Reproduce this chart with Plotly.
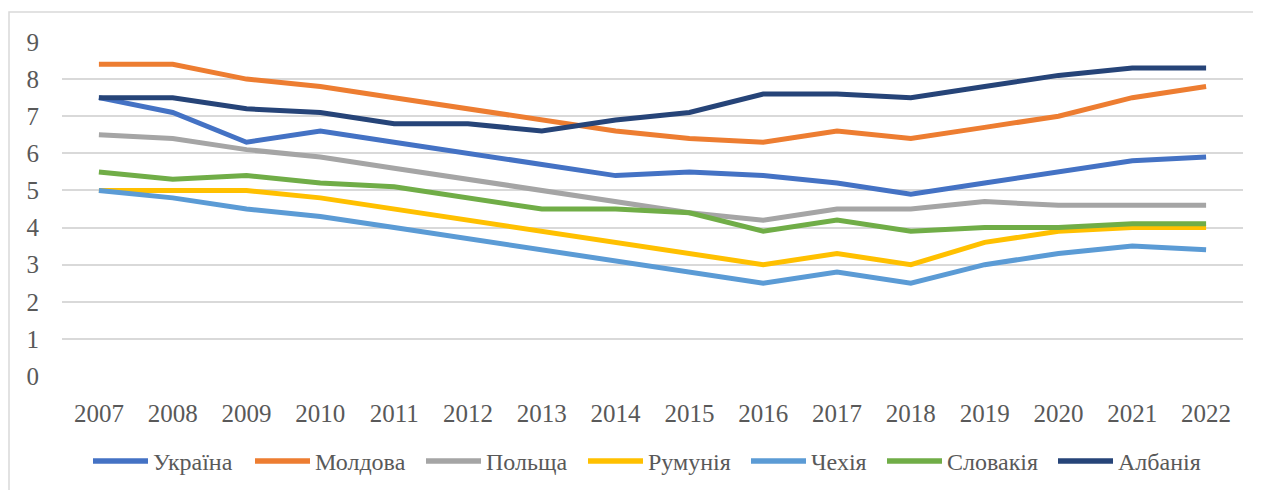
import plotly.graph_objects as go

years = [str(y) for y in range(2007, 2023)]
y_ticks = [0, 1, 2, 3, 4, 5, 6, 7, 8, 9]

ukraine  = [7.5, 7.1, 6.3, 6.6, 6.3, 6.0, 5.7, 5.4, 5.5, 5.4, 5.2, 4.9, 5.2, 5.5, 5.8, 5.9]
moldova  = [8.4, 8.4, 8.0, 7.8, 7.5, 7.2, 6.9, 6.6, 6.4, 6.3, 6.6, 6.4, 6.7, 7.0, 7.5, 7.8]
poland   = [6.5, 6.4, 6.1, 5.9, 5.6, 5.3, 5.0, 4.7, 4.4, 4.2, 4.5, 4.5, 4.7, 4.6, 4.6, 4.6]
romania  = [5.0, 5.0, 5.0, 4.8, 4.5, 4.2, 3.9, 3.6, 3.3, 3.0, 3.3, 3.0, 3.6, 3.9, 4.0, 4.0]
czechia  = [5.0, 4.8, 4.5, 4.3, 4.0, 3.7, 3.4, 3.1, 2.8, 2.5, 2.8, 2.5, 3.0, 3.3, 3.5, 3.4]
slovakia = [5.5, 5.3, 5.4, 5.2, 5.1, 4.8, 4.5, 4.5, 4.4, 3.9, 4.2, 3.9, 4.0, 4.0, 4.1, 4.1]
albania  = [7.5, 7.5, 7.2, 7.1, 6.8, 6.8, 6.6, 6.9, 7.1, 7.6, 7.6, 7.5, 7.8, 8.1, 8.3, 8.3]

names = ["Україна", "Молдова", "Польща", "Румунія", "Чехія", "Словакія", "Албанія"]
series = [ukraine, moldova, poland, romania, czechia, slovakia, albania]
colors = ["#4472C4", "#ED7D31", "#A5A5A5", "#FFC000", "#5B9BD5", "#70AD47", "#264478"]

FONT = "Liberation Serif"
TXT = "#595959"

# figure geometry (page has an 8px body margin)
W, H = 1253, 482
ML, MT, MR, MB = 54, 34, 18, 114
PW = W - ML - MR
PH = H - MT - MB

def px_to_paper_x(px):
    return (px - 8 - ML) / PW

def px_to_paper_y(py):
    return (H - MB - (py - 8)) / PH

fig = go.Figure()
for name, vals, col in zip(names, series, colors):
    fig.add_trace(go.Scatter(
        x=years, y=vals, name=name, mode="lines",
        line=dict(color=col, width=5),
        showlegend=False,
    ))

# manual legend (Excel-style long line keys)
legend_line_start = [93, 255, 426, 588, 751, 887, 1058]
legend_line_len = 55
legend_y = 461
shapes = [dict(
    type="rect", xref="paper", yref="paper",
    x0=px_to_paper_x(9), x1=px_to_paper_x(1300), y0=px_to_paper_y(600), y1=px_to_paper_y(12),
    line=dict(color="#D9D9D9", width=1.5), fillcolor="rgba(0,0,0,0)", layer="below",
)]
annotations = []
for name, col, xs in zip(names, colors, legend_line_start):
    shapes.append(dict(
        type="line", xref="paper", yref="paper",
        x0=px_to_paper_x(xs), x1=px_to_paper_x(xs + legend_line_len),
        y0=px_to_paper_y(legend_y), y1=px_to_paper_y(legend_y),
        line=dict(color=col, width=5.5),
    ))
    annotations.append(dict(
        xref="paper", yref="paper",
        x=px_to_paper_x(xs + legend_line_len + 3), y=px_to_paper_y(legend_y + 1),
        xanchor="left", yanchor="middle", showarrow=False,
        text=name, font=dict(family=FONT, size=24, color=TXT),
    ))

fig.update_layout(
    width=W, height=H,
    margin=dict(l=ML, r=MR, t=MT, b=MB),
    paper_bgcolor="white", plot_bgcolor="white",
    font=dict(family=FONT, color=TXT),
    showlegend=False,
    shapes=shapes,
    annotations=annotations,
)
fig.update_xaxes(
    type="category", range=[-0.5, 15.5], showgrid=False, zeroline=False, showline=False,
    ticks="", tickfont=dict(family=FONT, size=25, color=TXT), ticklabelstandoff=20,
)
fig.update_yaxes(
    range=[0, 9], tickvals=y_ticks, showgrid=True, gridcolor="#D9D9D9", gridwidth=1.5,
    zeroline=False, showline=False, ticks="",
    tickfont=dict(family=FONT, size=25, color=TXT), ticklabelstandoff=22,
)

fig.write_html("out.html")
